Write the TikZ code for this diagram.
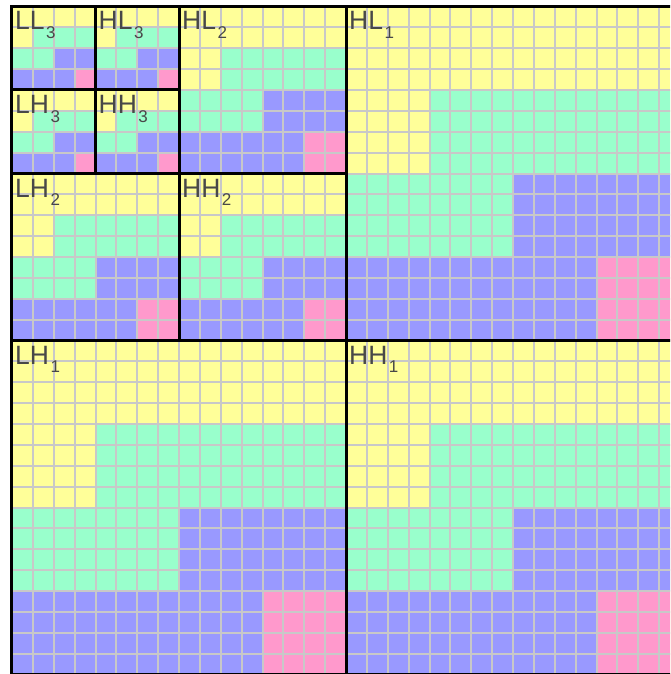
\documentclass[tikz,border=0pt]{standalone}
\usepackage{fontspec}
\setmainfont{Liberation Sans}
\definecolor{cy}{HTML}{FFFF99}
\definecolor{cg}{HTML}{99FFCC}
\definecolor{cb}{HTML}{9999FF}
\definecolor{cp}{HTML}{FF99CC}
\definecolor{gridc}{HTML}{C8C8C8}
\definecolor{txtc}{HTML}{484848}
\newcommand\subband[3]{%
  \begin{scope}[shift={(#1,#2)}]
    \fill[cy] (0,0) rectangle (4*#3,4*#3);
    \fill[cg] (#3,#3) rectangle (4*#3,2*#3);
    \fill[cg] (0,2*#3) rectangle (2*#3,3*#3);
    \fill[cb] (2*#3,2*#3) rectangle (4*#3,3*#3);
    \fill[cb] (0,3*#3) rectangle (3*#3,4*#3);
    \fill[cp] (3*#3,3*#3) rectangle (4*#3,4*#3);
  \end{scope}}
\newcommand\bandlabel[4]{%
  \node[lab] (#1) at (#2,#3) {#4};}
\newcommand\sbs[1]{\kern1.5pt\raisebox{-8.5pt}{\fontsize{17}{17}\selectfont #1}}
\begin{document}
\begin{tikzpicture}[x=20.875pt,y=-20.875pt,
  gridline/.style={gridc,line width=2pt},
  bandline/.style={black,line width=3pt},
  lab/.style={anchor=base west,inner sep=0pt,xshift=3pt,yshift=-23.5pt,
    text=txtc,font=\fontsize{26.5}{30}\selectfont}]
\useasboundingbox (-0.57485,-0.31138) rectangle (31.52096,31.97605);
\clip (-0.57485,-0.31138) rectangle (31.52096,31.97605);
% level 3
\subband{0}{0}{1}
\subband{4}{0}{1}
\subband{0}{4}{1}
\subband{4}{4}{1}
% level 2
\subband{8}{0}{2}
\subband{0}{8}{2}
\subband{8}{8}{2}
% level 1
\subband{16}{0}{4}
\subband{0}{16}{4}
\subband{16}{16}{4}
% grid
\foreach \i in {0,...,32}{
  \draw[gridline] (\i,0) -- (\i,32);
  \draw[gridline] (0,\i) -- (32,\i);
}
% subband borders
\draw[bandline] (0,0) rectangle (32,32);
\draw[bandline] (16,0) -- (16,32);
\draw[bandline] (0,16) -- (32,16);
\draw[bandline] (8,0) -- (8,16);
\draw[bandline] (0,8) -- (16,8);
\draw[bandline] (4,0) -- (4,8);
\draw[bandline] (0,4) -- (8,4);
% labels
\bandlabel{ll3}{0}{0}{LL\sbs{3}}
\bandlabel{hl3}{4}{0}{HL\sbs{3}}
\bandlabel{lh3}{0}{4}{LH\sbs{3}}
\bandlabel{hh3}{4}{4}{HH\sbs{3}}
\bandlabel{hl2}{8}{0}{HL\sbs{2}}
\bandlabel{lh2}{0}{8}{LH\sbs{2}}
\bandlabel{hh2}{8}{8}{HH\sbs{2}}
\bandlabel{hl1}{16}{0}{HL\sbs{1}}
\bandlabel{lh1}{0}{16}{LH\sbs{1}}
\bandlabel{hh1}{16}{16}{HH\sbs{1}}
\end{tikzpicture}
\end{document}
